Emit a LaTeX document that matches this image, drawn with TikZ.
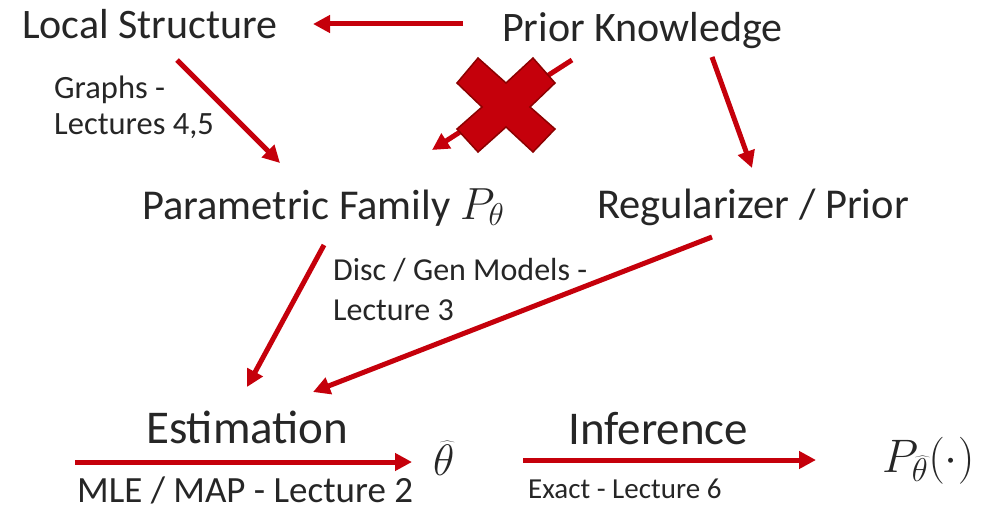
\RequirePackage{fix-cm}
\documentclass[tikz,border=0pt]{standalone}
\usepackage{fontspec}
\setmainfont{Carlito}
\usetikzlibrary{arrows.meta}
\definecolor{txt}{RGB}{38,38,38}
\definecolor{arr}{RGB}{197,0,11}
\definecolor{crossfill}{RGB}{197,0,11}
\definecolor{crossedge}{RGB}{140,0,0}
\tikzset{
  lbl/.style={inner sep=0pt, anchor=base west, text=txt},
  big/.style={lbl, font=\fontsize{42}{50}\selectfont},
  mid/.style={lbl, font=\fontsize{42.5}{50}\selectfont},
  bot/.style={lbl, font=\fontsize{47}{56}\selectfont},
  conn/.style={draw=arr, line width=5pt, -{Triangle[length=17pt,width=17pt]}},
}
\begin{document}
\begin{tikzpicture}[x=1pt,y=-1pt]
\useasboundingbox (0,0) rectangle (989,511);
% texts
\node[big] (ls) at (22,39) {Local Structure};
\node[big] (pk) at (502,42) {Prior Knowledge};
\node[lbl, font=\fontsize{32.5}{39}\selectfont] (gr1) at (54,99) {Graphs -};
\node[lbl, font=\fontsize{32.5}{39}\selectfont] (gr2) at (54,135) {Lectures 4,5};
\node[mid] (pf) at (142,219) {Parametric Family {\fontsize{45}{50}\selectfont$P_\theta$}};
\node[mid] (rp) at (597,218) {Regularizer / Prior};
\node[lbl, font=\fontsize{32}{38}\selectfont] (dg1) at (333,280) {Disc / Gen Models -};
\node[lbl, font=\fontsize{32}{38}\selectfont] (dg2) at (333,320) {Lecture 3};
\node[bot] (es) at (146,443) {Estimation};
\node[lbl, font=\fontsize{37}{44}\selectfont] (ml) at (77,502) {MLE / MAP - Lecture 2};
\node[lbl, font=\fontsize{44}{52}\selectfont] (th) at (433,475) {$\widehat{\theta}$};
\node[bot] (in) at (568,444) {Inference};
\node[lbl, font=\fontsize{29}{35}\selectfont] (ex) at (528,498) {Exact - Lecture 6};
\node[lbl, font=\fontsize{47}{56}\selectfont] (ph) at (882,472) {$P_{\widehat{\theta}}(\cdot)$};
% connector end points
\coordinate (a1s) at (463,24);  \coordinate (a1e) at (313,24);
\coordinate (a2s) at (177,60);  \coordinate (a2e) at (280,163);
\coordinate (a3s) at (572,60);  \coordinate (a3e) at (432,150);
\coordinate (a4s) at (712,57);  \coordinate (a4e) at (752,168);
\coordinate (a5s) at (324,245); \coordinate (a5e) at (247,387);
\coordinate (a6s) at (712,237); \coordinate (a6e) at (313,392);
\coordinate (a7s) at (75,462);  \coordinate (a7e) at (412,462);
\coordinate (a8s) at (523,460); \coordinate (a8e) at (816,460);
% connectors
\draw[conn] (a1s) -- (a1e);
\draw[conn] (a2s) -- (a2e);
\draw[conn] (a3s) -- (a3e);
\draw[conn] (a4s) -- (a4e);
\draw[conn] (a5s) -- (a5e);
\draw[conn] (a6s) -- (a6e);
\draw[conn] (a7s) -- (a7e);
\draw[conn] (a8s) -- (a8e);
% cross
\filldraw[fill=crossfill, draw=crossedge, line width=1.5pt, line join=miter]
  (478,58) -- (506,83) -- (533,58) -- (555,83) -- (530,107) -- (555,129)
  -- (533,152) -- (506,127) -- (478,152) -- (457,129) -- (482,107) -- (457,83) -- cycle;
\end{tikzpicture}
\end{document}
